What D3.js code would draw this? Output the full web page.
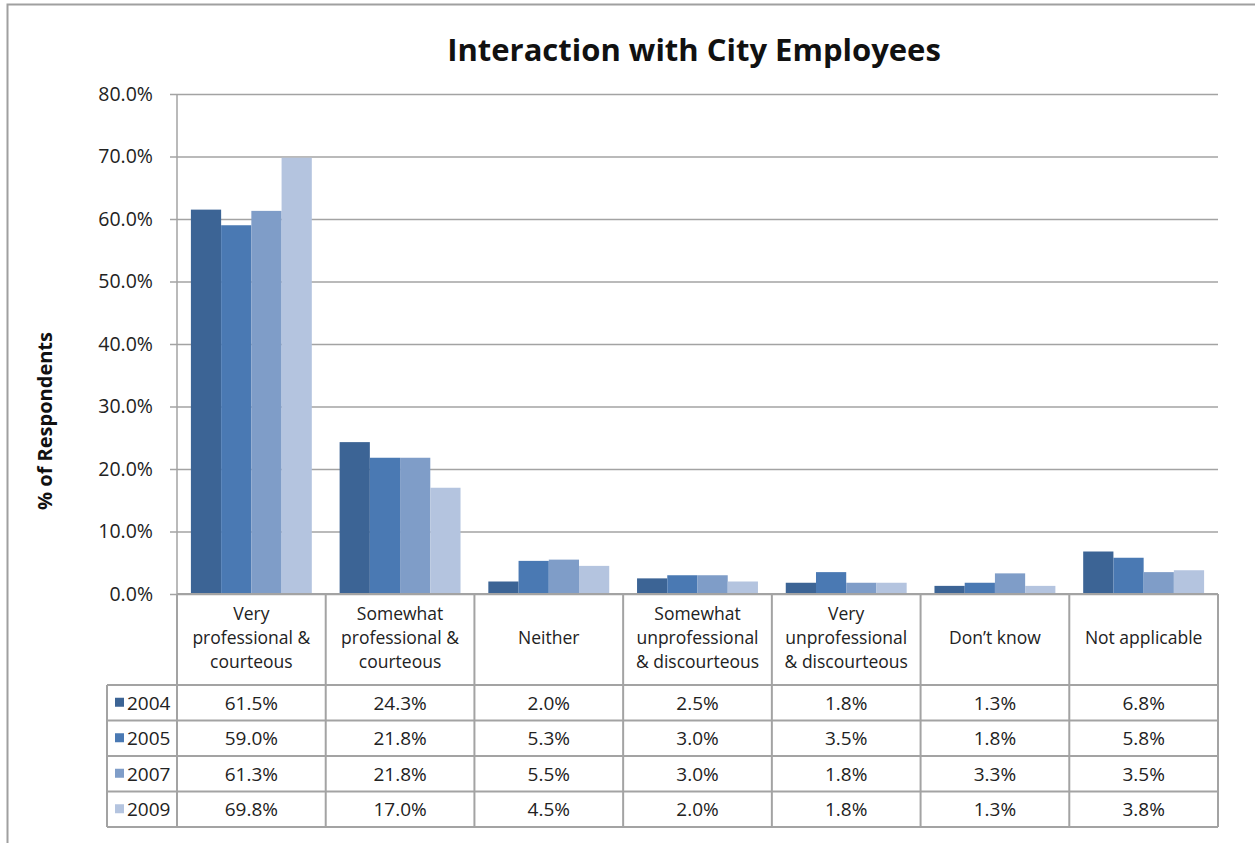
<!DOCTYPE html>
<html>

<head>
  <meta charset="utf-8">
  <title>Interaction with City Employees</title>
  <script src="https://d3js.org/d3.v7.min.js"></script>
  <style>
    body { margin: 0; background: #fff; }
    text { font-family: "Open Sans", "Noto Sans", sans-serif; fill: #222; }
  </style>
</head>

<body>
  <div id='view'></div>
  <script>
    var width = 1255;
    var height = 843;

    // data
    var categories = [
      "Very professional & courteous",
      "Somewhat professional & courteous",
      "Neither",
      "Somewhat unprofessional & discourteous",
      "Very unprofessional & discourteous",
      "Don’t know",
      "Not applicable"
    ];
    var categoryLines = [
      ["Very", "professional &", "courteous"],
      ["Somewhat", "professional &", "courteous"],
      ["Neither"],
      ["Somewhat", "unprofessional", "& discourteous"],
      ["Very", "unprofessional", "& discourteous"],
      ["Don’t know"],
      ["Not applicable"]
    ];
    var years = ["2004", "2005", "2007", "2009"];
    var values2004 = [61.5, 24.3, 2.0, 2.5, 1.8, 1.3, 6.8];
    var values2005 = [59.0, 21.8, 5.3, 3.0, 3.5, 1.8, 5.8];
    var values2007 = [61.3, 21.8, 5.5, 3.0, 1.8, 3.3, 3.5];
    var values2009 = [69.8, 17.0, 4.5, 2.0, 1.8, 1.3, 3.8];
    var yTicks = [0, 10, 20, 30, 40, 50, 60, 70, 80];
    var colors = ["#3c6495", "#4a79b3", "#7f9dc8", "#b4c4df"];

    var series = [values2004, values2005, values2007, values2009];

    var plotLeft = 177, plotRight = 1218, plotTop = 94, plotBottom = 594;
    var headerBottom = 685, rowH = 35.5, legendLeft = 107;
    var gridColor = "#a3a3a3";

    var svg = d3.select("#view")
      .append("svg")
      .attr("width", width)
      .attr("height", height);

    // outer frame
    svg.append("rect")
      .attr("x", 7.5).attr("y", 4.5)
      .attr("width", 1300).attr("height", 900)
      .attr("fill", "none")
      .attr("stroke", "#a0a0a0")
      .attr("stroke-width", 2);

    svg.append("text")
      .attr("x", 694).attr("y", 61)
      .attr("text-anchor", "middle")
      .attr("font-size", 31)
      .attr("font-weight", "bold")
      .style("fill", "#111")
      .text("Interaction with City Employees");

    var x = d3.scaleBand()
      .domain(categories)
      .range([plotLeft, plotRight]);

    var x1 = d3.scaleBand()
      .domain(years)
      .range([0, x.bandwidth()])
      .paddingOuter(0.46);

    var y = d3.scaleLinear()
      .domain([0, 80])
      .range([plotBottom, plotTop]);

    // gridlines + y axis
    var yAxis = svg.append("g")
      .attr("transform", "translate(" + plotLeft + ",0)")
      .call(d3.axisLeft(y)
        .tickValues(yTicks)
        .tickSize(-(plotRight - plotLeft))
        .tickPadding(24)
        .tickFormat(function (d) { return d.toFixed(1) + "%"; }));
    yAxis.select(".domain").remove();
    yAxis.selectAll(".tick line")
      .attr("stroke", gridColor)
      .attr("stroke-width", 1.5)
      .attr("x1", -7);
    yAxis.selectAll(".tick text")
      .attr("font-size", 19.5)
      .style("fill", "#222");

    svg.append("line")
      .attr("x1", plotLeft).attr("x2", plotLeft)
      .attr("y1", plotTop).attr("y2", plotBottom)
      .attr("stroke", gridColor).attr("stroke-width", 1.5);

    svg.append("text")
      .attr("transform", "translate(52,421) rotate(-90)")
      .attr("text-anchor", "middle")
      .attr("font-size", 20)
      .attr("font-weight", "bold")
      .style("fill", "#111")
      .text("% of Respondents");

    // bars
    var groups = svg.append("g").selectAll("g")
      .data(years)
      .join("g")
      .attr("fill", function (d, i) { return colors[i]; });

    groups.selectAll("rect")
      .data(function (d, i) {
        return series[i].map(function (v, j) { return { year: d, cat: categories[j], value: v }; });
      })
      .join("rect")
      .attr("x", function (d) { return x(d.cat) + x1(d.year); })
      .attr("width", x1.bandwidth())
      .attr("y", function (d) { return y(d.value); })
      .attr("height", function (d) { return y(0) - y(d.value); });

    // data table
    var table = svg.append("g")
      .attr("stroke", gridColor)
      .attr("stroke-width", 2)
      .attr("fill", "none");

    var tableBottom = headerBottom + rowH * years.length;

    // horizontal lines
    table.append("line")
      .attr("x1", plotLeft).attr("x2", plotRight)
      .attr("y1", plotBottom).attr("y2", plotBottom);
    for (var r = 0; r <= years.length; r++) {
      table.append("line")
        .attr("x1", legendLeft).attr("x2", plotRight)
        .attr("y1", headerBottom + r * rowH).attr("y2", headerBottom + r * rowH);
    }
    // vertical lines
    table.append("line")
      .attr("x1", legendLeft).attr("x2", legendLeft)
      .attr("y1", headerBottom).attr("y2", tableBottom);
    categories.forEach(function (c) {
      table.append("line")
        .attr("x1", x(c)).attr("x2", x(c))
        .attr("y1", plotBottom).attr("y2", tableBottom);
    });
    table.append("line")
      .attr("x1", plotRight).attr("x2", plotRight)
      .attr("y1", plotBottom).attr("y2", tableBottom);

    // header labels
    var lineH = 24;
    categories.forEach(function (c, i) {
      var lines = categoryLines[i];
      var cy = 637;
      var startY = cy - (lines.length - 1) * lineH / 2;
      var t = svg.append("text")
        .attr("text-anchor", "middle")
        .attr("font-size", 17.5)
        .attr("dominant-baseline", "central");
      lines.forEach(function (l, k) {
        t.append("tspan")
          .attr("x", x(c) + x.bandwidth() / 2)
          .attr("y", startY + k * lineH)
          .text(l);
      });
    });

    // legend column and values
    years.forEach(function (yr, r) {
      var cy = headerBottom + r * rowH + rowH / 2;
      svg.append("rect")
        .attr("x", 115).attr("y", cy - 5)
        .attr("width", 9).attr("height", 9)
        .attr("fill", colors[r]);
      svg.append("text")
        .attr("x", 127).attr("y", cy)
        .attr("dominant-baseline", "central")
        .attr("font-size", 19)
        .text(yr);
      series[r].forEach(function (v, j) {
        svg.append("text")
          .attr("x", x(categories[j]) + x.bandwidth() / 2)
          .attr("y", cy)
          .attr("text-anchor", "middle")
          .attr("dominant-baseline", "central")
          .attr("font-size", 19)
          .text(v.toFixed(1) + "%");
      });
    });
  </script>
</body>

</html>
